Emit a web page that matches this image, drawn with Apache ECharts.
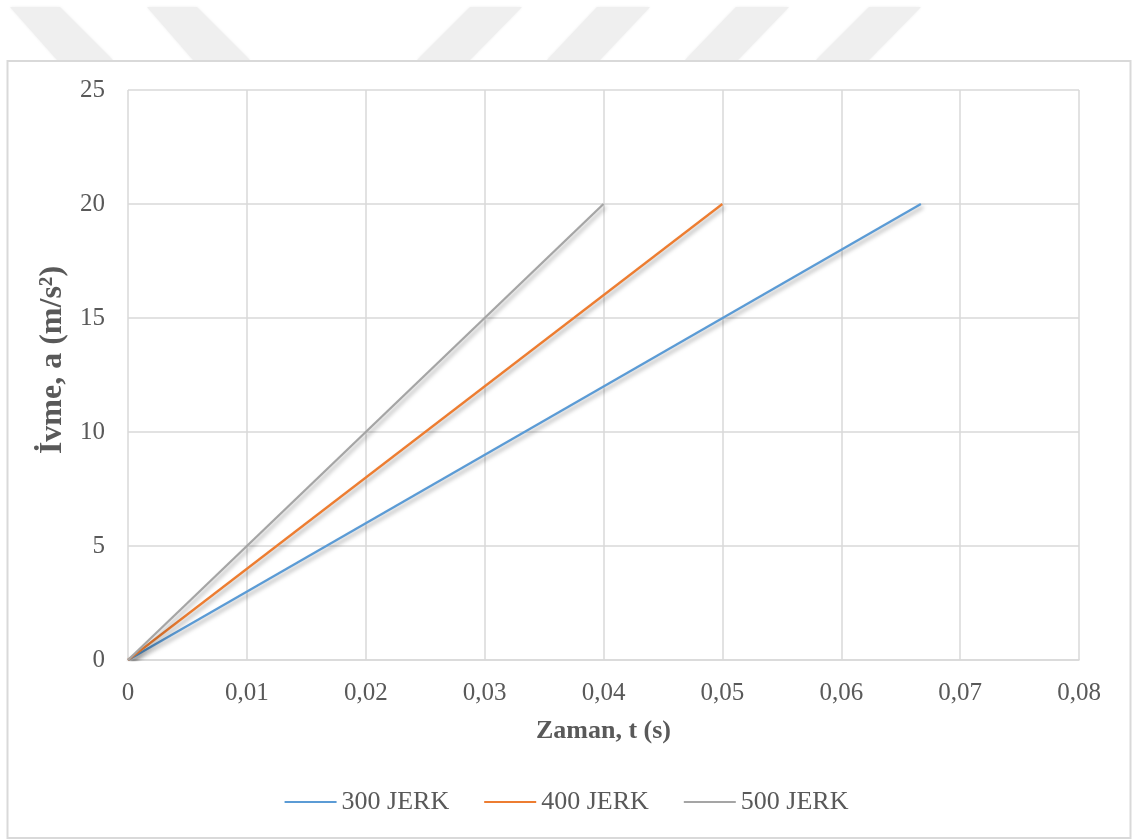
<!DOCTYPE html>
<html>
<head>
<meta charset="utf-8">
<title>İvme - Zaman</title>
<script src="https://cdn.jsdelivr.net/npm/echarts@6/dist/echarts.min.js"></script>
<style>
  html, body { margin: 0; padding: 0; background: #ffffff; }
  #chart { width: 1133px; height: 839px; }
</style>
</head>
<body>
<div id="chart"></div>
<script>
// Acceleration vs. time for three jerk limits (t in s, a in m/s²)
const seriesNames = ['300 JERK', '400 JERK', '500 JERK'];
const jerk300 = [[0, 0], [0.0667, 20]];
const jerk400 = [[0, 0], [0.05, 20]];
const jerk500 = [[0, 0], [0.04, 20]];
const xTickLabels = ['0', '0,01', '0,02', '0,03', '0,04', '0,05', '0,06', '0,07', '0,08'];
const yTickLabels = ['0', '5', '10', '15', '20', '25'];

const colors = ['#5B9BD5', '#ED7D31', '#A5A5A5'];
const textColor = '#595959';
const gridColor = '#D9D9D9';
const font = '"Liberation Serif", "Times New Roman", serif';

// Light diagonal stripes along the top of the page
const stripes = [
  [[10, 7], [60, 7], [113, 60], [57, 60]],
  [[147, 7], [197, 7], [250, 60], [193, 60]],
  [[470, 7], [522, 7], [470, 60], [417, 60]],
  [[597, 7], [650, 7], [600, 60], [547, 60]],
  [[736, 7], [789, 7], [738, 60], [685, 60]],
  [[869, 7], [921, 7], [869, 60], [816, 60]]
];

const chart = echarts.init(document.getElementById('chart'), null, { renderer: 'canvas' });

const lineSeries = [jerk300, jerk400, jerk500].map((data, i) => ({
  name: seriesNames[i],
  type: 'line',
  data: data,
  symbol: 'none',
  animation: false,
  lineStyle: {
    color: colors[i],
    width: 2.25,
    shadowColor: 'rgba(0,0,0,0.35)',
    shadowBlur: 4,
    shadowOffsetX: 2,
    shadowOffsetY: 3
  },
  itemStyle: { color: colors[i] }
}));

chart.setOption({
  backgroundColor: '#ffffff',
  animation: false,
  color: colors,
  textStyle: { fontFamily: font },
  graphic: [
    ...stripes.map(pts => ({
      type: 'polygon',
      z: -10,
      shape: { points: pts },
      style: { fill: '#EFEFEF', shadowColor: '#EFEFEF', shadowBlur: 3 }
    })),
    {
      type: 'rect',
      z: -5,
      shape: { x: 7.5, y: 61, width: 1123, height: 777 },
      style: { fill: 'none', stroke: gridColor, lineWidth: 2 }
    }
  ],
  grid: { left: 128, right: 54, top: 90, bottom: 179 },
  xAxis: {
    type: 'value',
    min: 0,
    max: 0.08,
    interval: 0.01,
    name: 'Zaman, t (s)',
    nameLocation: 'middle',
    nameGap: 58,
    nameTextStyle: { color: textColor, fontSize: 26, fontWeight: 'bold', fontFamily: font },
    axisLine: { show: true, lineStyle: { color: gridColor, width: 1.5 } },
    axisTick: { show: false },
    splitLine: { show: true, lineStyle: { color: gridColor, width: 1.5 } },
    axisLabel: {
      color: textColor,
      fontSize: 25,
      fontFamily: font,
      margin: 21,
      formatter: v => xTickLabels[Math.round(v / 0.01)]
    }
  },
  yAxis: {
    type: 'value',
    min: 0,
    max: 25,
    interval: 5,
    name: 'İvme, a (m/s²)',
    nameLocation: 'middle',
    nameGap: 54,
    nameTextStyle: {
      color: textColor, fontSize: 32, fontWeight: 'bold', fontFamily: font,
      padding: [0, 0, 0, 30]
    },
    axisLine: { show: false },
    axisTick: { show: false },
    splitLine: { show: true, lineStyle: { color: gridColor, width: 1.5 } },
    axisLabel: {
      color: textColor,
      fontSize: 25,
      fontFamily: font,
      margin: 23,
      formatter: v => yTickLabels[Math.round(v / 5)]
    }
  },
  legend: {
    data: seriesNames.map(n => ({ name: n, icon: 'rect' })),
    bottom: 19,
    left: 'center',
    itemWidth: 52,
    itemHeight: 2,
    itemGap: 35,
    textStyle: { color: textColor, fontSize: 26, fontFamily: font }
  },
  series: lineSeries
});
</script>
</body>
</html>
